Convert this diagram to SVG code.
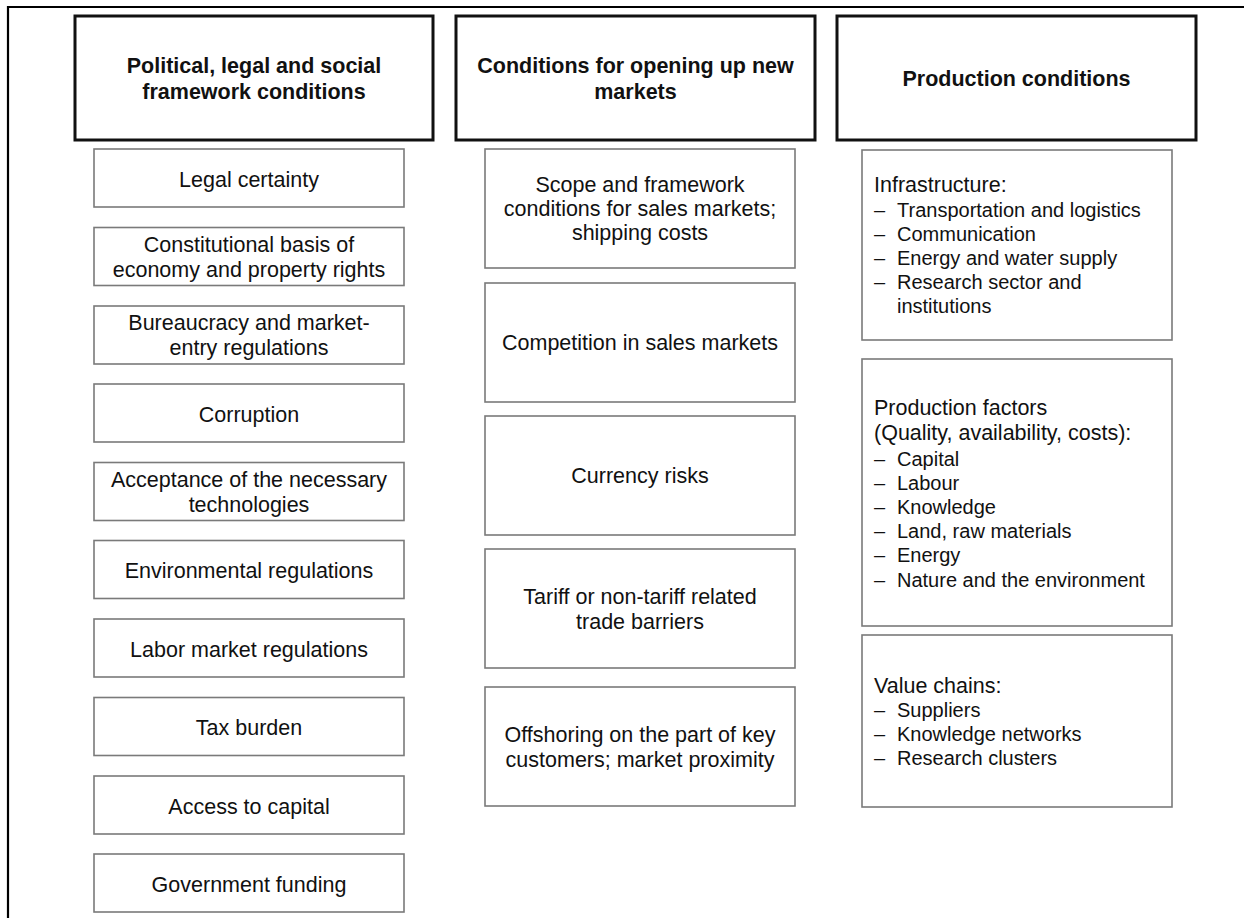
<svg xmlns="http://www.w3.org/2000/svg" width="1244" height="918" viewBox="0 0 1244 918">
  <style>
    .frame { fill: none; stroke: #000; stroke-width: 2.2; }
    .head { fill: #fff; stroke: #111; stroke-width: 3; }
    .box { fill: #fff; stroke: #7a7a7a; stroke-width: 1.6; }
    text { font-family: "Liberation Sans", Arial, sans-serif; fill: #111; }
    .ht { font-size: 21.5px; font-weight: bold; text-anchor: middle; }
    .t { font-size: 21.5px; text-anchor: middle; }
    .l { font-size: 21.5px; }
    .b { font-size: 20px; }
  </style>
  <rect width="1244" height="918" fill="#fff"/>
  <path class="frame" d="M8,918 V7 H1244"/>

  <!-- column headers -->
  <g id="head-political">
    <rect class="head" x="75" y="16" width="358" height="124"/>
    <text class="ht" x="254" y="73">Political, legal and social</text>
    <text class="ht" x="254" y="99">framework conditions</text>
  </g>
  <g id="head-markets">
    <rect class="head" x="456" y="16" width="359" height="124"/>
    <text class="ht" x="635.5" y="73">Conditions for opening up new</text>
    <text class="ht" x="635.5" y="99">markets</text>
  </g>
  <g id="head-production">
    <rect class="head" x="837" y="16" width="359" height="124"/>
    <text class="ht" x="1016.5" y="86">Production conditions</text>
  </g>

  <!-- left column -->
  <g id="legal-certainty">
    <rect class="box" x="94" y="149" width="310" height="58"/>
    <text class="t" x="249" y="186.5">Legal certainty</text>
  </g>
  <g id="constitutional-basis">
    <rect class="box" x="94" y="227.5" width="310" height="58"/>
    <text class="t" x="249" y="252">Constitutional basis of</text>
    <text class="t" x="249" y="277">economy and property rights</text>
  </g>
  <g id="bureaucracy">
    <rect class="box" x="94" y="306" width="310" height="58"/>
    <text class="t" x="249" y="330">Bureaucracy and market-</text>
    <text class="t" x="249" y="355">entry regulations</text>
  </g>
  <g id="corruption">
    <rect class="box" x="94" y="384" width="310" height="58"/>
    <text class="t" x="249" y="421.5">Corruption</text>
  </g>
  <g id="acceptance">
    <rect class="box" x="94" y="462.5" width="310" height="58"/>
    <text class="t" x="249" y="486.5">Acceptance of the necessary</text>
    <text class="t" x="249" y="511.5">technologies</text>
  </g>
  <g id="environmental">
    <rect class="box" x="94" y="540.5" width="310" height="58"/>
    <text class="t" x="249" y="578">Environmental regulations</text>
  </g>
  <g id="labor-market">
    <rect class="box" x="94" y="619" width="310" height="58"/>
    <text class="t" x="249" y="656.5">Labor market regulations</text>
  </g>
  <g id="tax-burden">
    <rect class="box" x="94" y="697.5" width="310" height="58"/>
    <text class="t" x="249" y="735">Tax burden</text>
  </g>
  <g id="access-capital">
    <rect class="box" x="94" y="776" width="310" height="58"/>
    <text class="t" x="249" y="813.5">Access to capital</text>
  </g>
  <g id="government-funding">
    <rect class="box" x="94" y="854" width="310" height="58"/>
    <text class="t" x="249" y="891.5">Government funding</text>
  </g>

  <!-- middle column -->
  <g id="scope">
    <rect class="box" x="485" y="149" width="310" height="119"/>
    <text class="t" x="640" y="192">Scope and framework</text>
    <text class="t" x="640" y="216">conditions for sales markets;</text>
    <text class="t" x="640" y="240">shipping costs</text>
  </g>
  <g id="competition">
    <rect class="box" x="485" y="283" width="310" height="119"/>
    <text class="t" x="640" y="350">Competition in sales markets</text>
  </g>
  <g id="currency">
    <rect class="box" x="485" y="416" width="310" height="119"/>
    <text class="t" x="640" y="483">Currency risks</text>
  </g>
  <g id="tariff">
    <rect class="box" x="485" y="549" width="310" height="119"/>
    <text class="t" x="640" y="604">Tariff or non-tariff related</text>
    <text class="t" x="640" y="629">trade barriers</text>
  </g>
  <g id="offshoring">
    <rect class="box" x="485" y="687" width="310" height="119"/>
    <text class="t" x="640" y="742">Offshoring on the part of key</text>
    <text class="t" x="640" y="767">customers; market proximity</text>
  </g>

  <!-- right column -->
  <g id="infrastructure">
    <rect class="box" x="862" y="150" width="310" height="190"/>
    <text class="l" x="874" y="192">Infrastructure:</text>
    <text class="b" x="874" y="217">–</text><text class="b" x="897" y="217">Transportation and logistics</text>
    <text class="b" x="874" y="241">–</text><text class="b" x="897" y="241">Communication</text>
    <text class="b" x="874" y="265">–</text><text class="b" x="897" y="265">Energy and water supply</text>
    <text class="b" x="874" y="289">–</text><text class="b" x="897" y="289">Research sector and</text>
    <text class="b" x="897" y="313">institutions</text>
  </g>
  <g id="production-factors">
    <rect class="box" x="862" y="359" width="310" height="267"/>
    <text class="l" x="874" y="415">Production factors</text>
    <text class="l" x="874" y="440">(Quality, availability, costs):</text>
    <text class="b" x="874" y="466">–</text><text class="b" x="897" y="466">Capital</text>
    <text class="b" x="874" y="490">–</text><text class="b" x="897" y="490">Labour</text>
    <text class="b" x="874" y="514">–</text><text class="b" x="897" y="514">Knowledge</text>
    <text class="b" x="874" y="538">–</text><text class="b" x="897" y="538">Land, raw materials</text>
    <text class="b" x="874" y="562">–</text><text class="b" x="897" y="562">Energy</text>
    <text class="b" x="874" y="587">–</text><text class="b" x="897" y="587">Nature and the environment</text>
  </g>
  <g id="value-chains">
    <rect class="box" x="862" y="635" width="310" height="172"/>
    <text class="l" x="874" y="693">Value chains:</text>
    <text class="b" x="874" y="717">–</text><text class="b" x="897" y="717">Suppliers</text>
    <text class="b" x="874" y="741">–</text><text class="b" x="897" y="741">Knowledge networks</text>
    <text class="b" x="874" y="765">–</text><text class="b" x="897" y="765">Research clusters</text>
  </g>

  <!-- no connectors in this layout -->
  <g id="connectors"/>
</svg>
